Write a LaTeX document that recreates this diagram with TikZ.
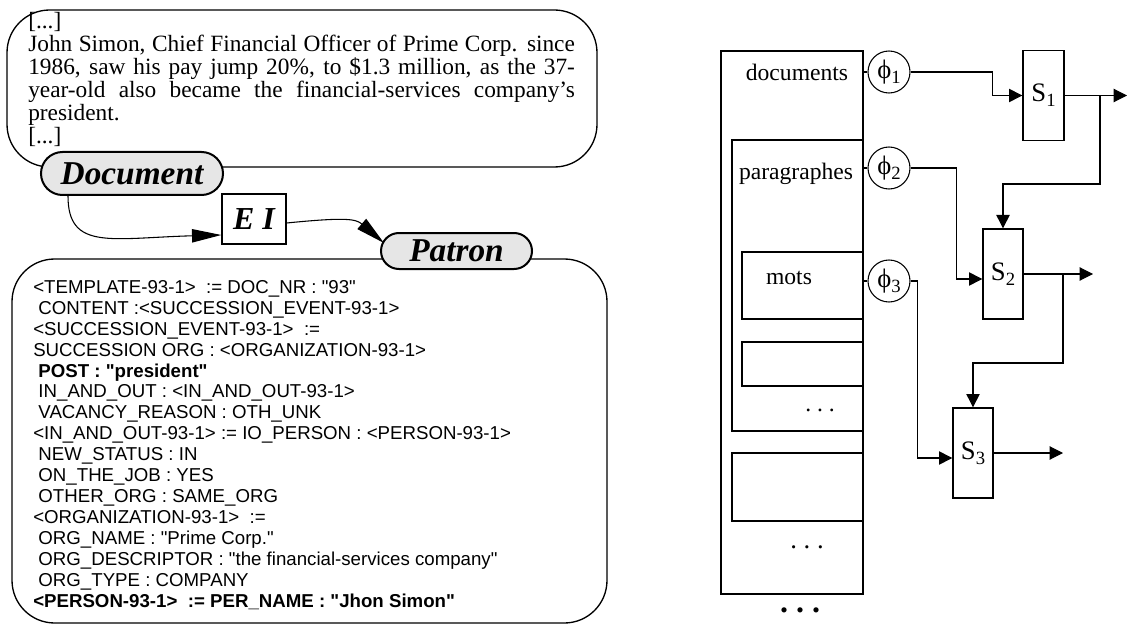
\documentclass[tikz,border=0pt]{standalone}
\usepackage{fontspec}
\setmainfont{Liberation Serif}
\setsansfont{Liberation Sans}[Ligatures=TeXOff]
\usepackage{tikz}
\usetikzlibrary{arrows.meta,positioning,shapes.misc}
\definecolor{tagfill}{HTML}{E6E6E6}
\newcommand{\low}[1]{\raisebox{-0.4ex}{\fontsize{14}{14}\selectfont #1}}
\newcommand{\indt}{\hspace*{3.9pt}}

\begin{document}
\begin{tikzpicture}[x=0.75pt, y=-0.75pt,
    textbox/.style={draw, line width=1pt, rounded corners=32pt, inner sep=0pt},
    tag/.style={draw, line width=1.5pt, rounded rectangle, fill=tagfill, inner sep=0pt, font=\fontsize{25}{25}\selectfont\bfseries\itshape},
    eibox/.style={draw, line width=1pt, fill=white, minimum width=48pt, minimum height=37.5pt, inner sep=0pt, font=\fontsize{24}{24}\selectfont\bfseries\itshape},
    curve/.style={-{Triangle[length=22pt,width=10pt]}, line width=0.8pt},
    level/.style={draw, line width=1.2pt, inner sep=0pt},
    boxname/.style={inner sep=0pt, font=\fontsize{17.7}{17.7}\selectfont},
    phi/.style={draw, circle, line width=0.8pt, minimum size=31.5pt, inner sep=0pt, font=\fontsize{20}{20}\selectfont},
    stage/.style={draw, line width=1pt, fill=white, minimum width=30pt, minimum height=67.5pt, inner sep=0pt, font=\fontsize{20}{20}\selectfont},
    flow/.style={-{Triangle[length=10pt,width=10pt]}, line width=0.8pt}
]
    \useasboundingbox (0,0) rectangle (1128,624);

    % left part: text, extraction, template
    \node[textbox, minimum width=442.5pt, minimum height=117.75pt] (source) at (302,88.5) {};
    \node[anchor=north west, inner sep=0pt, text width=410pt, align=justify,
          font=\fontsize{17.5}{17.25}\selectfont] (story) at (28,12)
        {{[...]}\\
         John Simon, Chief Financial Officer of Prime Corp. since\linebreak
         1986, saw his pay jump 20\%, to \$1.3 million, as the 37-\linebreak
         year-old also became the financial-services company's\linebreak
         president.\\
         {[...]}};
    \node[tag, minimum width=136.5pt, minimum height=32.25pt] (doc) at (132,173.5) {Document};

    \node[textbox, minimum width=446.25pt, minimum height=273pt] (template) at (309.5,441) {};
    \node[tag, minimum width=113.25pt, minimum height=27pt] (patron) at (456.5,251) {Patron};
    \node[eibox] (ei) at (254,219) {E I};

    \node[anchor=north west, inner sep=0pt, align=left,
          font=\sffamily\fontsize{14}{15.7}\selectfont] (slots) at (33,280)
        {<TEMPLATE-93-1>\ \ := DOC\_NR : "93"\\
         \indt CONTENT :<SUCCESSION\_EVENT-93-1>\\
         <SUCCESSION\_EVENT-93-1>\ \ :=\\
         SUCCESSION ORG : <ORGANIZATION-93-1>\\
         \indt\textbf{POST : "president"}\\
         \indt IN\_AND\_OUT : <IN\_AND\_OUT-93-1>\\
         \indt VACANCY\_REASON : OTH\_UNK\\
         <IN\_AND\_OUT-93-1> := IO\_PERSON : <PERSON-93-1>\\
         \indt NEW\_STATUS : IN\\
         \indt ON\_THE\_JOB : YES\\
         \indt OTHER\_ORG : SAME\_ORG\\
         <ORGANIZATION-93-1>\ \ :=\\
         \indt ORG\_NAME : "Prime Corp."\\
         \indt ORG\_DESCRIPTOR : "the financial-services company"\\
         \indt ORG\_TYPE : COMPANY\\
         \textbf{<PERSON-93-1>\ \ := PER\_NAME : "Jhon Simon"}};

    \draw[curve] ([xshift=-48pt]doc.south) .. controls +(0,55) and +(-110,3) .. ([yshift=-12pt]ei.west);
    \draw[curve] ([yshift=-3pt]ei.east) .. controls +(60,-6) and +(-28,-24) .. ([xshift=3pt, yshift=6pt]patron.west);

    % right part: levels, features, stages
    \node[level, line width=2pt, minimum width=106.5pt, minimum height=407.25pt] (docs) at (792,322.5) {};
    \node[level, minimum width=98.25pt, minimum height=218.25pt] (para) at (797.5,285.5) {};
    \node[level, minimum width=90.75pt, minimum height=50.25pt] (mots) at (802.5,285.5) {};
    \node[level, minimum width=90.75pt, minimum height=33pt] (word) at (802.5,364) {};
    \node[level, minimum width=98.25pt, minimum height=51pt] (para2) at (797.5,487) {};

    \node[boxname] (docsname) at (797,72) {documents};
    \node[boxname] (paraname) at (796,174) {paragraphes};
    \node[boxname] (motsname) at (789,278) {mots};
    \node[boxname] (dotsa) at (820,410) {.\ .\ .};
    \node[boxname, font=\fontsize{20}{20}\selectfont] (dotsb) at (807,547) {.\ .\ .};
    \node[boxname, font=\fontsize{24}{24}\selectfont\bfseries] (dotsc) at (800,610) {.\ .\ .};

    \node[phi] (f1) at (889,72) {ϕ\low{1}};
    \node[phi] (f2) at (889,168) {ϕ\low{2}};
    \node[phi] (f3) at (889,281) {ϕ\low{3}};
    \draw[line width=0.8pt] (docs.east |- f1) -- (f1);
    \draw[line width=0.8pt] (para.east |- f2) -- (f2);
    \draw[line width=0.8pt] (mots.east |- f3) -- (f3);

    \node[stage, minimum width=30.75pt] (s1) at (1043.5,95.5) {S\low{1}};
    \node[stage] (s2) at (1003,274) {S\low{2}};
    \node[stage] (s3) at (973,453) {S\low{3}};

    \coordinate (out1) at (1127,95.5);
    \coordinate (out2) at (1093,274);
    \coordinate (out3) at (1063,453);
    \coordinate (j1) at (1100,95.5);
    \coordinate (j2) at (1063,274);

    \draw[flow] (f1.east) -| ([xshift=-22.5pt]s1.west) -- (s1.west);
    \draw[flow] (f2.east) -| ([xshift=-19.5pt, yshift=-3.75pt]s2.west) -- ([yshift=-3.75pt]s2.west);
    \draw[flow] (f3.east) -| ([xshift=-26.25pt, yshift=-3.75pt]s3.west) -- ([yshift=-3.75pt]s3.west);

    \draw[flow] (s1.east) -- (out1);
    \draw[flow] (j1) -- ++(0,88.5) -| (s2.north);
    \draw[flow] (s2.east) -- (out2);
    \draw[flow] (j2) -- ++(0,89) -| (s3.north);
    \draw[flow] (s3.east) -- (out3);
\end{tikzpicture}
\end{document}
